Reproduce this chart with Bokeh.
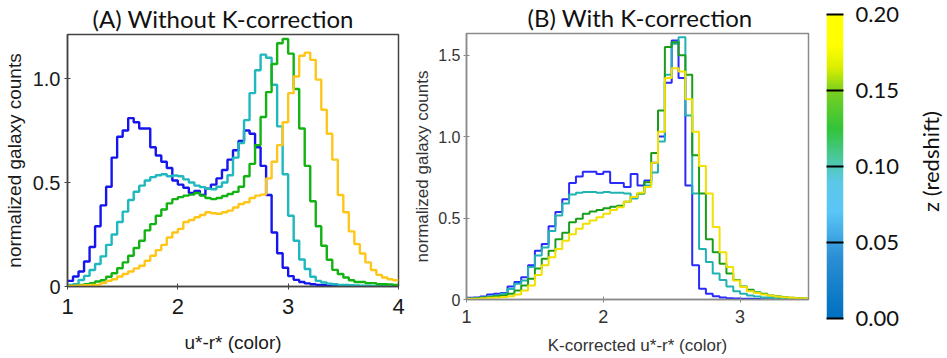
import numpy as np
from bokeh.plotting import figure
from bokeh.layouts import row, column
from bokeh.models import Range1d, FixedTicker, Title, LinearColorMapper
from bokeh.embed import file_html
from bokeh.resources import INLINE

# ---------------- data ----------------
# Panel A: bins of 0.05 from 1.00 to 4.00 (u*-r*)
bin_left_A = [round(1.0 + 0.05 * i, 2) for i in range(60)]
blue_A = [0.027, 0.048, 0.072, 0.12, 0.19, 0.29, 0.39, 0.48, 0.62, 0.72,
          0.75, 0.81, 0.79, 0.76, 0.76, 0.67, 0.63, 0.60, 0.57, 0.51,
          0.49, 0.475, 0.45, 0.46, 0.44, 0.47, 0.49, 0.52, 0.56, 0.61,
          0.655, 0.70, 0.75, 0.735, 0.67, 0.58, 0.44, 0.26, 0.16, 0.09,
          0.05, 0.032, 0.022, 0.015, 0.011, 0.008, 0.006, 0.004, 0.003, 0.002,
          0.002, 0.001, 0.001, 0.001, 0.001, 0.0, 0.0, 0.0, 0.0, 0.0]
cyan_A = [0.008, 0.011, 0.031, 0.051, 0.079, 0.108, 0.145, 0.20, 0.25, 0.31,
          0.36, 0.416, 0.456, 0.485, 0.51, 0.526, 0.535, 0.54, 0.53, 0.534,
          0.53, 0.515, 0.50, 0.485, 0.478, 0.47, 0.468, 0.48, 0.50, 0.535,
          0.62, 0.69, 0.80, 0.93, 1.04, 1.115, 1.10, 0.97, 0.77, 0.54,
          0.34, 0.22, 0.13, 0.084, 0.047, 0.027, 0.019, 0.014, 0.011, 0.008,
          0.008, 0.006, 0.005, 0.004, 0.004, 0.003, 0.003, 0.002, 0.002, 0.002]
green_A = [0.003, 0.005, 0.008, 0.011, 0.016, 0.024, 0.03, 0.047, 0.064, 0.088,
           0.116, 0.148, 0.185, 0.22, 0.27, 0.30, 0.34, 0.37, 0.40, 0.42,
           0.43, 0.437, 0.442, 0.45, 0.437, 0.426, 0.42, 0.426, 0.435, 0.445,
           0.455, 0.48, 0.53, 0.59, 0.68, 0.815, 0.935, 1.07, 1.17, 1.19,
           1.12, 0.95, 0.76, 0.58, 0.41, 0.29, 0.196, 0.129, 0.08, 0.06,
           0.043, 0.03, 0.022, 0.022, 0.016, 0.016, 0.011, 0.011, 0.01, 0.008]
yellow_A = [0.003, 0.004, 0.005, 0.006, 0.007, 0.008, 0.016, 0.027, 0.035, 0.048,
            0.06, 0.072, 0.087, 0.10, 0.124, 0.148, 0.175, 0.20, 0.236, 0.26,
            0.277, 0.31, 0.32, 0.333, 0.344, 0.357, 0.352, 0.35, 0.357, 0.365,
            0.38, 0.397, 0.405, 0.426, 0.437, 0.442, 0.52, 0.60, 0.68, 0.79,
            0.93, 1.01, 1.11, 1.125, 1.09, 0.995, 0.85, 0.735, 0.61, 0.44,
            0.357, 0.265, 0.204, 0.159, 0.116, 0.079, 0.056, 0.043, 0.035, 0.03]

# Panel B: bins of 0.05 from 1.00 to 3.50 (K-corrected u*-r*)
bin_left_B = [round(1.0 + 0.05 * i, 2) for i in range(50)]
blue_B = [0.01, 0.012, 0.018, 0.03, 0.035, 0.04, 0.08, 0.107, 0.137, 0.21,
          0.30, 0.34, 0.45, 0.537, 0.615, 0.715, 0.755, 0.785, 0.785, 0.77,
          0.785, 0.715, 0.715, 0.69, 0.77, 0.70, 0.73, 0.84, 1.00, 1.33,
          1.59, 1.36, 0.70, 0.21, 0.066, 0.035, 0.02, 0.012, 0.008, 0.006,
          0.005, 0.004, 0.003, 0.002, 0.002, 0.001, 0.001, 0.001, 0.001, 0.001]
cyan_B = [0.005, 0.008, 0.012, 0.02, 0.025, 0.035, 0.065, 0.096, 0.117, 0.20,
          0.27, 0.32, 0.42, 0.515, 0.59, 0.645, 0.655, 0.66, 0.66, 0.655,
          0.66, 0.655, 0.655, 0.65, 0.62, 0.65, 0.70, 0.78, 0.97, 1.38,
          1.57, 1.61, 1.13, 0.65, 0.31, 0.23, 0.16, 0.12, 0.08, 0.05,
          0.035, 0.025, 0.018, 0.012, 0.01, 0.008, 0.006, 0.005, 0.004, 0.003]
green_B = [0.005, 0.007, 0.01, 0.015, 0.02, 0.025, 0.035, 0.055, 0.086, 0.127,
           0.19, 0.25, 0.30, 0.37, 0.41, 0.475, 0.495, 0.527, 0.54, 0.55,
           0.56, 0.57, 0.575, 0.60, 0.63, 0.65, 0.72, 0.90, 1.16, 1.55,
           1.58, 1.50, 1.38, 0.885, 0.65, 0.37, 0.29, 0.22, 0.16, 0.12,
           0.08, 0.06, 0.045, 0.035, 0.025, 0.02, 0.015, 0.01, 0.008, 0.006]
yellow_B = [0.004, 0.005, 0.007, 0.01, 0.012, 0.015, 0.02, 0.03, 0.055, 0.086,
            0.15, 0.21, 0.26, 0.31, 0.36, 0.40, 0.435, 0.465, 0.485, 0.505,
            0.527, 0.55, 0.567, 0.60, 0.63, 0.655, 0.69, 0.84, 1.03, 1.36,
            1.42, 1.40, 1.23, 1.03, 0.82, 0.65, 0.445, 0.29, 0.20, 0.117,
            0.076, 0.05, 0.04, 0.03, 0.025, 0.018, 0.014, 0.01, 0.008, 0.006]

x_ticks_A = [1, 2, 3, 4]
x_tick_labels_A = ["1", "2", "3", "4"]
y_ticks_A = [0, 0.5, 1.0]
y_tick_labels_A = ["0", "0.5", "1.0"]
x_ticks_B = [1, 2, 3]
x_tick_labels_B = ["1", "2", "3"]
y_ticks_B = [0, 0.5, 1.0, 1.5]
y_tick_labels_B = ["0", "0.5", "1.0", "1.5"]

z_ticks = [0.0, 0.05, 0.10, 0.15, 0.20]
z_tick_labels = ["0.00", "0.05", "0.10", "0.15", "0.20"]
# colour-bar anchor colours (redshift -> colour)
cbar_stops = [0.0, 0.04, 0.07, 0.09, 0.105, 0.125, 0.15, 0.165, 0.18, 0.20]
cbar_colors = ["#0070c0", "#2b8fd5", "#5ac6f7", "#5cc8e8", "#4cc8a0", "#33c43a",
               "#7ad020", "#d8ee00", "#ffff00", "#ffff00"]

colors_A = ["#1515ee", "#1fb8be", "#14b314", "#ffc61a"]
colors_B = ["#2a2aff", "#22b2b2", "#1a9e1a", "#f2e000"]

BW = 0.05


def steps(left, vals):
    xs = list(left) + [round(left[-1] + BW, 2)]
    ys = list(vals) + [vals[-1]]
    return xs, ys


# ---------------- panel A ----------------
pA = figure(width=410, height=358, x_range=Range1d(1, 4), y_range=Range1d(0, 1.212),
            output_backend="svg", toolbar_location=None,
            min_border_left=64, min_border_right=12, min_border_top=34, min_border_bottom=72)
pA.add_layout(Title(text="(A) Without K-correction", align="left", offset=25, text_font="Lato",
                    text_font_size="24px", text_font_style="normal", text_color="#111111",
                    standoff=0, vertical_align="top"), "above")
for vals, c in zip([blue_A, cyan_A, green_A, yellow_A], colors_A):
    xs, ys = steps(bin_left_A, vals)
    pA.step(xs, ys, mode="after", line_color=c, line_width=2.4)

# ---------------- panel B ----------------
pB = figure(width=408, height=358, x_range=Range1d(1, 3.5), y_range=Range1d(0, 1.633),
            output_backend="svg", toolbar_location=None,
            min_border_left=56, min_border_right=10, min_border_top=33, min_border_bottom=59)
pB.add_layout(Title(text="(B) With K-correction", align="left", offset=61, text_font="Lato",
                    text_font_size="24px", text_font_style="normal", text_color="#111111",
                    standoff=0, vertical_align="top"), "above")
for vals, c in zip([blue_B, cyan_B, green_B, yellow_B], colors_B):
    xs, ys = steps(bin_left_B, vals)
    pB.step(xs, ys, mode="after", line_color=c, line_width=2.0)


def style(p, xt, xl, yt, yl, xlabel, fx, fy, flab, axcol, tcol, ystand, lstand, xts, yts):
    p.grid.visible = False
    p.xaxis.ticker = FixedTicker(ticks=xt)
    p.yaxis.ticker = FixedTicker(ticks=yt)
    p.xaxis.major_label_overrides = {t: l for t, l in zip(xt, xl)}
    p.yaxis.major_label_overrides = {t: l for t, l in zip(yt, yl)}
    p.xaxis.axis_label = xlabel
    p.yaxis.axis_label = "normalized galaxy counts"
    for ax in (p.xaxis, p.yaxis):
        ax.minor_tick_line_color = None
        ax.major_tick_in = 3
        ax.major_tick_out = 3
        ax.axis_line_color = axcol
        ax.axis_line_width = 1.5
        ax.major_tick_line_color = axcol
        ax.major_label_text_font = "Liberation Sans"
        ax.major_label_text_color = tcol
        ax.axis_label_text_font = "Liberation Sans"
        ax.axis_label_text_font_size = flab
        ax.axis_label_text_font_style = "normal"
        ax.axis_label_text_color = tcol
    p.xaxis.major_label_standoff = xts
    p.yaxis.major_label_standoff = yts
    p.xaxis.major_label_text_font_size = fx
    p.yaxis.major_label_text_font_size = fy
    p.yaxis.axis_label_standoff = ystand
    p.xaxis.axis_label_standoff = lstand
    p.outline_line_color = axcol
    p.outline_line_width = 1.5
    p.background_fill_color = "white"
    p.border_fill_color = "white"


style(pA, x_ticks_A, x_tick_labels_A, y_ticks_A, y_tick_labels_A, "u*-r* (color)",
      "22px", "20px", "19px", "#444444", "#1a1a1a", 5, 15, 9, 4)
style(pB, x_ticks_B, x_tick_labels_B, y_ticks_B, y_tick_labels_B,
      "K-corrected u*-r* (color)", "18px", "16px", "17px", "#8a8a8a", "#333333", 3, 10, 7, 3)

# ---------------- colour bar ----------------
stops = np.array(cbar_stops)
rgb = np.array([[int(c[i:i + 2], 16) for i in (1, 3, 5)] for c in cbar_colors], dtype=float)
levels = np.linspace(0, 0.2, 256)
palette = []
for v in levels:
    r, g, b = (np.interp(v, stops, rgb[:, k]) for k in range(3))
    palette.append("#%02x%02x%02x" % (int(round(r)), int(round(g)), int(round(b))))
mapper = LinearColorMapper(palette=palette, low=0, high=0.2)

pC = figure(width=87, height=358, x_range=Range1d(0, 1), y_range=Range1d(0, 0.2),
            output_backend="svg", toolbar_location=None, y_axis_location="right",
            min_border_left=8, min_border_right=62, min_border_top=14, min_border_bottom=40)
pC.image(image=[np.linspace(0, 0.2, 300).reshape(-1, 1)], x=0, y=0, dw=1, dh=0.2,
         color_mapper=mapper)
pC.xaxis.visible = False
pC.grid.visible = False
pC.outline_line_color = None
ax = pC.yaxis[0]
ax.ticker = FixedTicker(ticks=z_ticks)
ax.major_label_overrides = {t: l for t, l in zip(z_ticks, z_tick_labels)}
ax.axis_line_color = None
ax.minor_tick_line_color = None
ax.major_tick_in = 17
ax.major_tick_out = 0
ax.major_tick_line_color = "black"
ax.major_tick_line_width = 2
ax.major_label_standoff = 12
ax.major_label_text_font = "Lato"
ax.major_label_text_font_size = "22px"
ax.major_label_text_color = "#111111"

# colour-bar title: left-axis label of a thin companion figure (reads bottom-to-top)
pD = figure(width=42, height=358, x_range=Range1d(0, 1), y_range=Range1d(0, 1),
            output_backend="svg", toolbar_location=None,
            min_border_left=38, min_border_right=1, min_border_top=12, min_border_bottom=48)
pD.xaxis.visible = False
pD.grid.visible = False
pD.outline_line_color = None
pD.yaxis.ticker = FixedTicker(ticks=[])
pD.yaxis.axis_line_color = None
pD.yaxis.major_tick_out = 0
pD.yaxis.major_tick_in = 0
pD.yaxis.major_label_standoff = 0
pD.yaxis.axis_label = "z (redshift)"
pD.yaxis.axis_label_standoff = 0
pD.yaxis.axis_label_text_font = "Lato"
pD.yaxis.axis_label_text_font_size = "22px"
pD.yaxis.axis_label_text_font_style = "normal"
pD.yaxis.axis_label_text_color = "#111111"

layout = row(column(pA), column(pB), column(pC), column(pD))
open("out.html", "w").write(file_html(layout, INLINE))
